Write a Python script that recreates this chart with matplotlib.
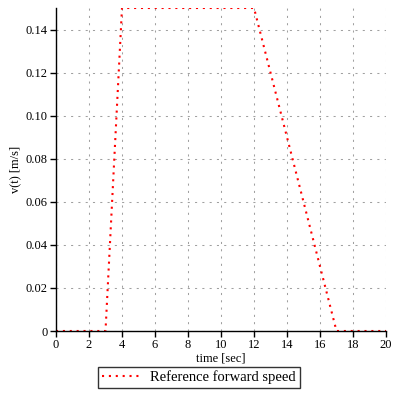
import matplotlib
matplotlib.use("Agg")
import matplotlib.pyplot as plt
from matplotlib.ticker import FuncFormatter

# Daten: Referenz-Geschwindigkeit
t = [0, 3, 4, 12, 17, 20]
v = [0, 0, 0.15, 0.15, 0, 0]

x_ticks = list(range(0, 21, 2))
y_ticks = [0, 0.02, 0.04, 0.06, 0.08, 0.10, 0.12, 0.14]

plt.rcParams['font.family'] = ['Liberation Serif', 'DejaVu Serif']

fig = plt.figure(figsize=(4, 4), dpi=100)
ax = fig.add_axes([0.14, 0.1725, 0.825, 0.8075])

line, = ax.plot(t, v, color='red', linestyle=(0, (1, 2.3)), linewidth=1.5,
                label='Reference forward speed')

ax.set_xlim(0, 20)
ax.set_ylim(0, 0.15)
ax.set_xticks(x_ticks)
ax.set_yticks(y_ticks)
ax.yaxis.set_major_formatter(FuncFormatter(lambda y, p: '0' if y == 0 else '%.2f' % y))

# Gitter
ax.grid(True, color='#a0a0a0', linestyle=(0, (2, 5)), linewidth=0.75)
ax.set_axisbelow(True)

for s in ['top', 'right']:
    ax.spines[s].set_visible(False)
ax.spines['left'].set_linewidth(1.0)
ax.spines['bottom'].set_linewidth(1.0)
ax.tick_params(direction='out', length=4, width=1, labelsize=9, pad=2)

ax.set_xlabel('time [sec]', fontsize=9, labelpad=1)
ax.set_ylabel('v(t) [m/s]', fontsize=9, labelpad=3)

leg = fig.legend(handles=[line], loc='center', bbox_to_anchor=(0.4975, 0.056),
                 fancybox=False, frameon=True, fontsize=10.5, handlelength=2.5,
                 borderpad=0.25, borderaxespad=0)
leg.get_frame().set_edgecolor('black')
leg.get_frame().set_linewidth(1.0)

fig.savefig('out.png', dpi=100)
